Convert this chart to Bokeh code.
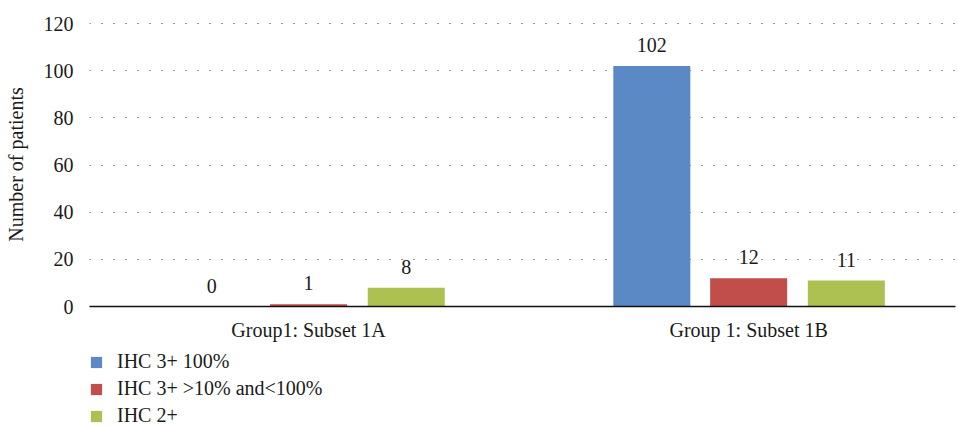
from bokeh.plotting import figure
from bokeh.models import ColumnDataSource, Range1d, FixedTicker, Legend, LegendItem
from bokeh.layouts import column
from bokeh.transform import dodge
from bokeh.embed import file_html
from bokeh.resources import INLINE

groups = ["Group1: Subset 1A", "Group 1: Subset 1B"]
series = ["IHC 3+ 100%", "IHC 3+ >10% and<100%", "IHC 2+"]
ihc3_100 = [0, 102]
ihc3_10_100 = [1, 12]
ihc2 = [8, 11]
colors = ["#5a89c5", "#c24e4b", "#acc151"]
y_ticks = [0, 20, 40, 60, 80, 100, 120]

FONT = "Liberation Serif"
FS = "20px"
TXT = "#1a1a1a"
xpos = [0.5 + i for i in range(len(groups))]
src = ColumnDataSource(dict(x=xpos, a=ihc3_100, b=ihc3_10_100, c=ihc2,
                            la=[str(v) for v in ihc3_100],
                            lb=[str(v) for v in ihc3_10_100],
                            lc=[str(v) for v in ihc2]))

p = figure(width=958, height=345, output_backend="svg", toolbar_location=None,
           x_range=Range1d(0.0023, 1.970), y_range=Range1d(0, 120.5),
           min_border_left=89, min_border_right=3, min_border_top=22, min_border_bottom=39)
p.outline_line_color = None

offsets = [-0.22, 0.0, 0.222]
cols = ["a", "b", "c"]
lcols = ["la", "lb", "lc"]
for off, col, lc, color in zip(offsets, cols, lcols, colors):
    p.vbar(x=dodge("x", off), top=col, width=0.175, bottom=0, source=src,
           fill_color=color, line_color=None)
    p.text(x=dodge("x", off), y=col, text=lc, source=src, text_align="center",
           text_baseline="middle", y_offset=-21, text_font_size=FS,
           text_color=TXT, text_font={"value": FONT})

p.xgrid.grid_line_color = None
p.ygrid.grid_line_color = "#333333"
p.ygrid.grid_line_dash = "1 11"
p.ygrid.grid_line_width = 1
p.ygrid.ticker = FixedTicker(ticks=y_ticks[1:])

p.yaxis.ticker = FixedTicker(ticks=y_ticks)
p.yaxis.axis_line_color = None
p.yaxis.major_tick_line_color = None
p.yaxis.minor_tick_line_color = None
p.yaxis.major_label_text_font = FONT
p.yaxis.major_label_text_font_size = FS
p.yaxis.major_label_text_color = TXT
p.yaxis.major_label_standoff = 10
p.yaxis.axis_label = "Number of patients"
p.yaxis.axis_label_text_font = FONT
p.yaxis.axis_label_text_font_size = FS
p.yaxis.axis_label_text_font_style = "normal"
p.yaxis.axis_label_text_color = TXT
p.yaxis.axis_label_standoff = 14

p.xaxis.ticker = FixedTicker(ticks=xpos)
p.xaxis.major_label_overrides = {x: g for x, g in zip(xpos, groups)}
p.xaxis.axis_line_color = "#111111"
p.xaxis.axis_line_width = 1.5
p.xaxis.major_tick_line_color = None
p.xaxis.minor_tick_line_color = None
p.xaxis.major_label_text_font = FONT
p.xaxis.major_label_text_font_size = FS
p.xaxis.major_label_text_color = TXT
p.xaxis.major_label_standoff = 6

# legend panel below the chart (dummy bars outside the visible range)
lg = figure(width=958, height=84, output_backend="svg", toolbar_location=None,
            x_range=Range1d(0, 1), y_range=Range1d(0, 1),
            x_axis_location=None, y_axis_location=None,
            min_border_left=88, min_border_right=0, min_border_top=5, min_border_bottom=0)
lg.outline_line_color = None
lg.xgrid.grid_line_color = None
lg.ygrid.grid_line_color = None
dummy = ColumnDataSource(dict(x=[-5.0], top=[0.0]))
rs = [lg.vbar(x="x", top="top", width=0.1, source=dummy, fill_color=c, line_color=None)
      for c in colors]
legend = Legend(items=[LegendItem(label=s, renderers=[r]) for s, r in zip(series, rs)],
                orientation="vertical", location="top_left",
                glyph_width=14, glyph_height=14, label_height=14,
                label_standoff=14, spacing=4, padding=0, margin=0,
                label_text_font=FONT, label_text_font_size=FS,
                label_text_color=TXT, border_line_color=None,
                background_fill_alpha=0)
lg.add_layout(legend, "center")

layout = column(p, lg, spacing=0)
open("out.html", "w").write(file_html(layout, INLINE))
